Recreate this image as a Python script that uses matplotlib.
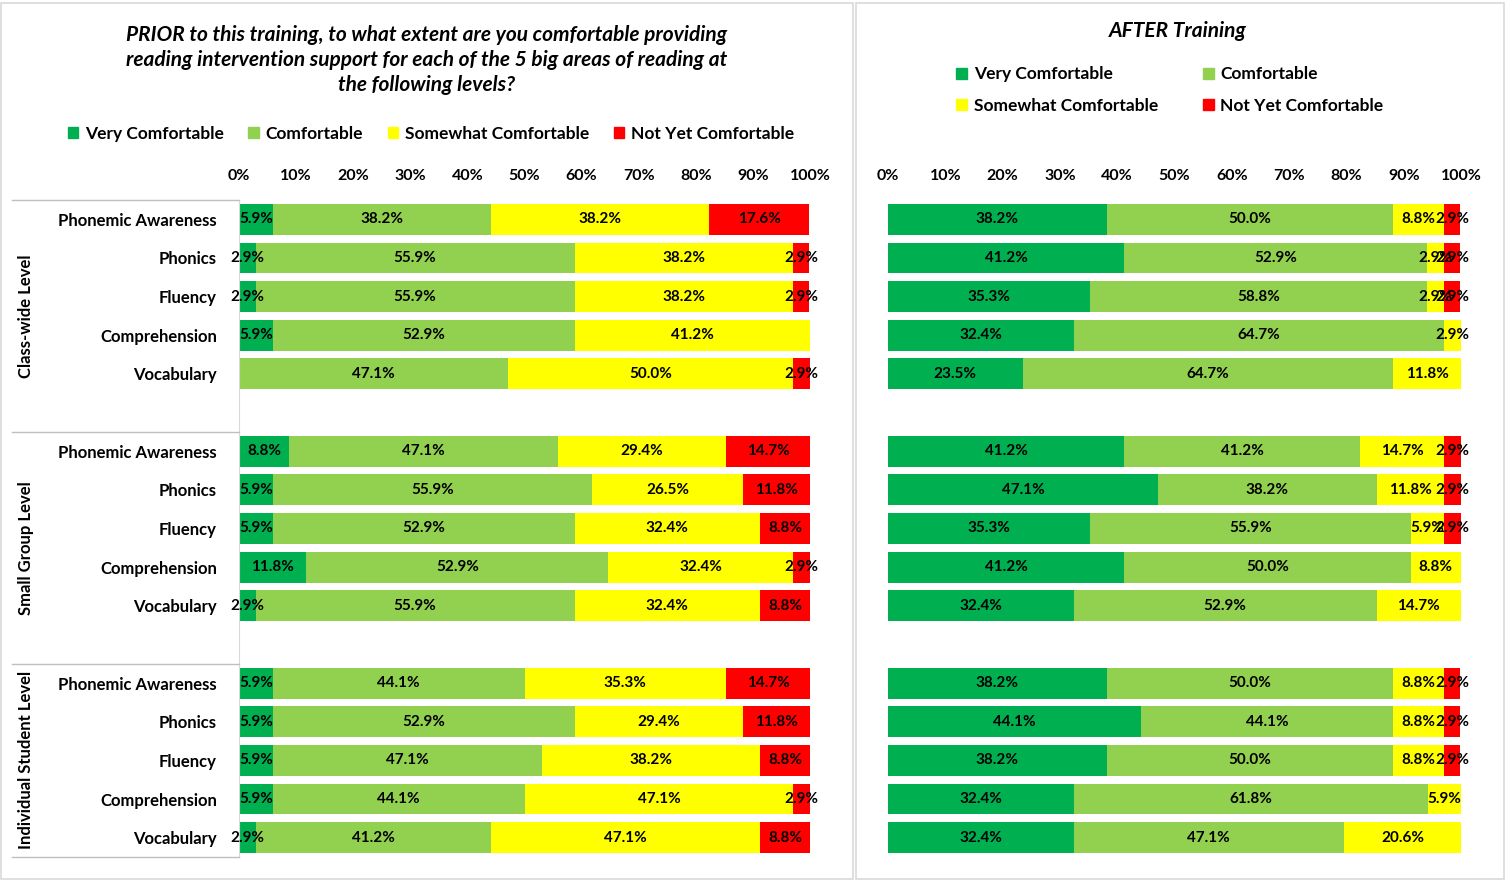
import numpy as np
import matplotlib.pyplot as plt
from matplotlib.patches import Rectangle
from matplotlib.lines import Line2D

plt.rcParams['font.family'] = ['Lato', 'DejaVu Sans']

areas = ['Phonemic Awareness', 'Phonics', 'Fluency', 'Comprehension', 'Vocabulary']
groups = ['Class-wide Level', 'Small Group Level', 'Individual Student Level']
series = ['Very Comfortable', 'Comfortable', 'Somewhat Comfortable', 'Not Yet Comfortable']
colors = ['#00B050', '#92D050', '#FFFF00', '#FF0000']

# rows: class-wide x5, small group x5, individual x5 ; columns: VC, C, SC, NYC
prior = [
    [5.9, 38.2, 38.2, 17.6], [2.9, 55.9, 38.2, 2.9], [2.9, 55.9, 38.2, 2.9],
    [5.9, 52.9, 41.2, 0], [0, 47.1, 50.0, 2.9],
    [8.8, 47.1, 29.4, 14.7], [5.9, 55.9, 26.5, 11.8], [5.9, 52.9, 32.4, 8.8],
    [11.8, 52.9, 32.4, 2.9], [2.9, 55.9, 32.4, 8.8],
    [5.9, 44.1, 35.3, 14.7], [5.9, 52.9, 29.4, 11.8], [5.9, 47.1, 38.2, 8.8],
    [5.9, 44.1, 47.1, 2.9], [2.9, 41.2, 47.1, 8.8],
]
after = [
    [38.2, 50.0, 8.8, 2.9], [41.2, 52.9, 2.9, 2.9], [35.3, 58.8, 2.9, 2.9],
    [32.4, 64.7, 2.9, 0], [23.5, 64.7, 11.8, 0],
    [41.2, 41.2, 14.7, 2.9], [47.1, 38.2, 11.8, 2.9], [35.3, 55.9, 5.9, 2.9],
    [41.2, 50.0, 8.8, 0], [32.4, 52.9, 14.7, 0],
    [38.2, 50.0, 8.8, 2.9], [44.1, 44.1, 8.8, 2.9], [38.2, 50.0, 8.8, 2.9],
    [32.4, 61.8, 5.9, 0], [32.4, 47.1, 20.6, 0],
]

W, H = 1506, 881
fig = plt.figure(figsize=(15.06, 8.81), dpi=100)

# slot positions: 5 bars, blank, 5 bars, blank, 5 bars
ypos = [g * 6 + i for g in range(3) for i in range(5)]


def draw(ax, data, show_labels):
    data = np.array(data)
    left = np.zeros(len(data))
    for k in range(4):
        ax.barh(ypos, data[:, k], left=left, height=0.8, color=colors[k])
        for y, l, v in zip(ypos, left, data[:, k]):
            if v > 0:
                ax.text(l + v / 2, y, f'{v:.1f}%', ha='center', va='center',
                        fontsize=11, fontweight='bold')
        left += data[:, k]
    ax.set_xlim(0, 100)
    ax.set_ylim(16.5, -0.5)
    ax.set_xticks(range(0, 101, 10))
    ax.set_xticklabels([f'{t}%' for t in range(0, 101, 10)], fontsize=11.5, fontweight='bold')
    ax.xaxis.tick_top()
    ax.tick_params(length=0, pad=12)
    for s in ['top', 'right', 'bottom']:
        ax.spines[s].set_visible(False)
    if show_labels:
        ax.set_yticks(ypos)
        ax.set_yticklabels(areas * 3, fontsize=12, fontweight='bold')
        ax.tick_params(axis='y', pad=16)
        ax.spines['left'].set_color('#D9D9D9')
    else:
        ax.set_yticks([])
        ax.spines['left'].set_visible(False)


top, bot = 200, 857
axl = fig.add_axes([239 / W, 1 - bot / H, 571 / W, (bot - top) / H])
axr = fig.add_axes([888 / W, 1 - bot / H, 573 / W, (bot - top) / H])
draw(axl, prior, True)
draw(axr, after, False)

# panel frames
for x0, x1 in [(1, 853), (856, 1504)]:
    fig.patches.append(Rectangle((x0 / W, 2 / H), (x1 - x0) / W, 876 / H,
                                 transform=fig.transFigure, fill=False,
                                 edgecolor='#D9D9D9', lw=1.2))

# group brackets
for yy in [200, 432, 664, 857]:
    fig.lines.append(Line2D([12 / W, 239 / W], [1 - yy / H] * 2,
                            transform=fig.transFigure, color='#BFBFBF', lw=1))
for g, yc in zip(groups, [316, 548, 760]):
    fig.text(26 / W, 1 - yc / H, g, rotation=90, ha='center', va='center',
             fontsize=12, fontweight='bold')

# titles
fig.text(427 / W, 1 - 60 / H,
         'PRIOR to this training, to what extent are you comfortable providing\n'
         'reading intervention support for each of the 5 big areas of reading at\n'
         'the following levels?',
         ha='center', va='center', fontsize=15, fontweight='bold', style='italic',
         linespacing=1.3)
fig.text(1178 / W, 1 - 31 / H, 'AFTER Training', ha='center', va='center',
         fontsize=15, fontweight='bold', style='italic')

handles = [Rectangle((0, 0), 1, 1, color=c) for c in colors]
fig.legend(handles, series, loc='center', bbox_to_anchor=(431 / W, 1 - 134 / H),
           ncol=4, frameon=False, handlelength=0.6, handleheight=0.6,
           columnspacing=1.4, handletextpad=0.4, prop={'weight': 'bold', 'size': 12.5})
# 2x2 legend filled row-wise
order = [0, 2, 1, 3]
fig.legend([handles[i] for i in order], [series[i] for i in order], loc='center',
           bbox_to_anchor=(1170 / W, 1 - 90 / H),
           ncol=2, frameon=False, handlelength=0.6, handleheight=0.6,
           columnspacing=2.6, handletextpad=0.4, labelspacing=0.9,
           prop={'weight': 'bold', 'size': 12.5})

fig.savefig('out.png', dpi=100)
